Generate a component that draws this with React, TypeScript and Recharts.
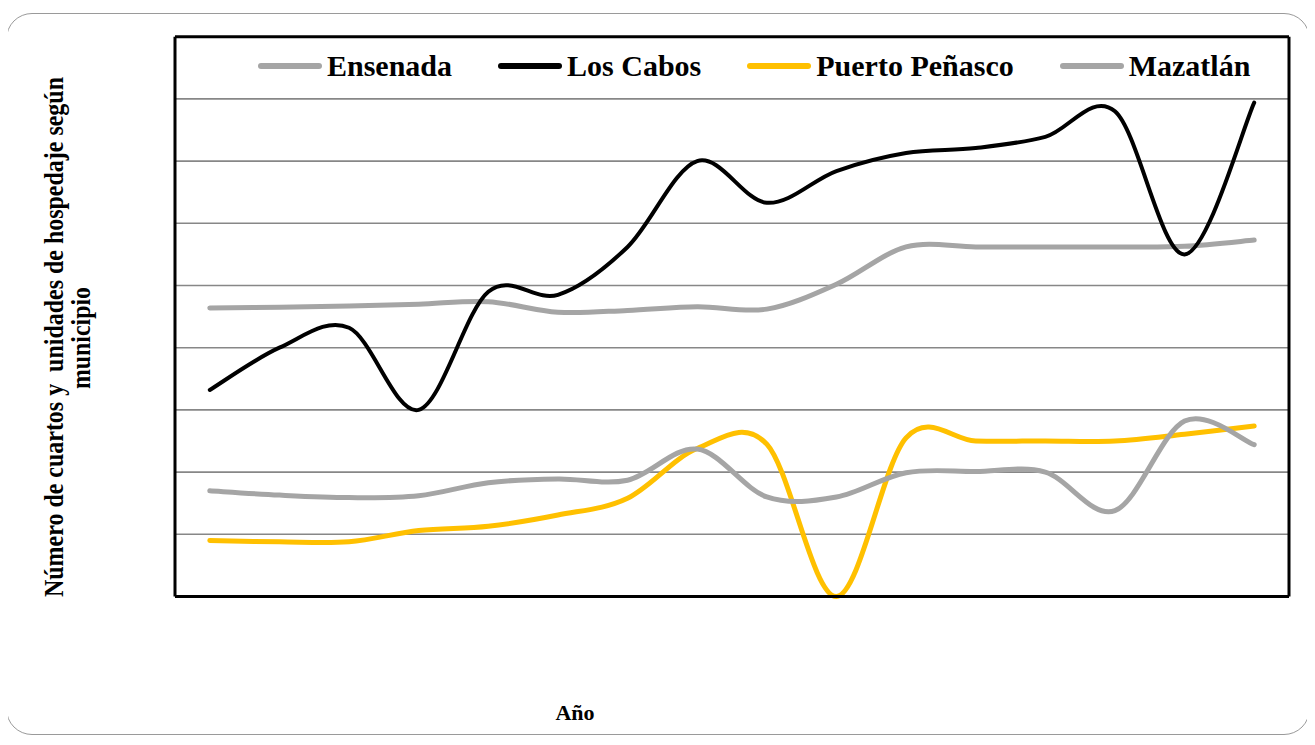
import { CartesianGrid, Legend, Line, LineChart, XAxis, YAxis } from "recharts";

const years = ["2000", "2001", "2002", "2003", "2004", "2005", "2006", "2007", "2008", "2009", "2010", "2011", "2012", "2013", "2014", "2015"];
const ensenada = [4.64, 4.65, 4.67, 4.7, 4.74, 4.57, 4.6, 4.66, 4.62, 5.02, 5.62, 5.62, 5.62, 5.62, 5.63, 5.73];
const losCabos = [3.32, 4.0, 4.32, 3.0, 4.9, 4.85, 5.62, 7.0, 6.33, 6.84, 7.13, 7.21, 7.39, 7.8, 5.5, 7.94];
const puertoPenasco = [0.9, 0.88, 0.88, 1.06, 1.13, 1.31, 1.58, 2.38, 2.45, 0, 2.55, 2.5, 2.5, 2.5, 2.61, 2.74];
const mazatlan = [1.7, 1.63, 1.59, 1.62, 1.83, 1.89, 1.87, 2.37, 1.6, 1.6, 1.99, 2.01, 2.0, 1.38, 2.82, 2.44];
const yTicks = [0, 1, 2, 3, 4, 5, 6, 7, 8, 9];

const data = years.map((year, i) => ({
  year,
  ensenada: ensenada[i],
  losCabos: losCabos[i],
  puertoPenasco: puertoPenasco[i],
  mazatlan: mazatlan[i],
}));

const series = [
  { key: "ensenada", name: "Ensenada", color: "#A5A5A5", width: 5 },
  { key: "losCabos", name: "Los Cabos", color: "#000000", width: 4 },
  { key: "puertoPenasco", name: "Puerto Peñasco", color: "#FFC000", width: 5 },
  { key: "mazatlan", name: "Mazatlán", color: "#A5A5A5", width: 5 },
];

const FONT = '"Liberation Serif", "Times New Roman", serif';

// excel-like smoothing (catmull-rom through every point)
const smooth = (ctx: any) => {
  let pts: number[][] = [];
  return {
    areaStart() {},
    areaEnd() {},
    lineStart() {
      pts = [];
    },
    point(x: number, y: number) {
      pts.push([+x, +y]);
    },
    lineEnd() {
      if (!pts.length) return;
      ctx.moveTo(pts[0][0], pts[0][1]);
      for (let i = 0; i < pts.length - 1; i++) {
        const p0 = pts[i - 1] || pts[i];
        const p1 = pts[i];
        const p2 = pts[i + 1];
        const p3 = pts[i + 2] || p2;
        ctx.bezierCurveTo(
          p1[0] + (p2[0] - p0[0]) / 6,
          p1[1] + (p2[1] - p0[1]) / 6,
          p2[0] - (p3[0] - p1[0]) / 6,
          p2[1] - (p3[1] - p1[1]) / 6,
          p2[0],
          p2[1]
        );
      }
    },
  };
};

function LegendRow() {
  return (
    <div style={{ display: "flex", alignItems: "center", gap: 46, fontFamily: FONT }}>
      {series.map((s) => (
        <div key={s.key} style={{ display: "flex", alignItems: "center", gap: 5 }}>
          <svg width={64} height={8}>
            <line x1={3} y1={4} x2={61} y2={4} stroke={s.color} strokeWidth={6} strokeLinecap="round" />
          </svg>
          <span style={{ fontSize: 30, fontWeight: "bold", color: "#000", whiteSpace: "nowrap" }}>{s.name}</span>
        </div>
      ))}
    </div>
  );
}

const frameLine = { stroke: "#000", strokeWidth: 3 };
const noTick = () => <g />;

export default function App() {
  return (
    <div style={{ position: "relative", left: -8, top: -8, width: 1315, height: 745, background: "#fff" }}>
      <div
        style={{
          position: "absolute",
          left: 6,
          top: 13,
          width: 1302,
          height: 720,
          border: "1.5px solid #9a9a9a",
          borderRadius: 26,
        }}
      />
      <div style={{ position: "absolute", left: 0, top: 0 }}>
        <LineChart
          width={1315}
          height={745}
          data={data}
          margin={{ top: 35.7, right: 25, bottom: 147.5, left: 174 }}
        >
          <CartesianGrid
            horizontal
            vertical={false}
            horizontalValues={yTicks}
            stroke="#878787"
            strokeWidth={1.6}
          />
          <XAxis
            dataKey="year"
            padding={{ left: 34.8, right: 34.8 }}
            height={1}
            tick={noTick}
            tickLine={false}
            axisLine={frameLine}
          />
          <XAxis
            xAxisId="top"
            orientation="top"
            dataKey="year"
            height={1}
            tick={false}
            tickLine={false}
            axisLine={frameLine}
          />
          <YAxis
            type="number"
            domain={[0, 9]}
            ticks={yTicks}
            width={1}
            tick={noTick}
            tickLine={false}
            axisLine={frameLine}
          />
          <YAxis
            yAxisId="right"
            orientation="right"
            type="number"
            domain={[0, 9]}
            width={1}
            tick={false}
            tickLine={false}
            axisLine={frameLine}
          />
          <Legend
            verticalAlign="middle"
            align="center"
            wrapperStyle={{ left: 258, top: 49, width: "auto", height: "auto" }}
            content={() => <LegendRow />}
          />
          {series.map((s) => (
            <Line
              key={s.key}
              dataKey={s.key}
              name={s.name}
              type={smooth as any}
              stroke={s.color}
              strokeWidth={s.width}
              strokeLinecap="round"
              dot={false}
              activeDot={false}
              isAnimationActive={false}
            />
          ))}
        </LineChart>
      </div>
      <svg style={{ position: "absolute", left: 0, top: 0 }} width={1315} height={745}>
        <text
          transform="translate(63 337) rotate(-90)"
          textAnchor="middle"
          fontFamily={FONT}
          fontWeight="bold"
          fontSize={27}
          textLength={520}
          lengthAdjust="spacingAndGlyphs"
          style={{ whiteSpace: "pre" }}
        >
          Número de cuartos y  unidades de hospedaje según
        </text>
        <text
          transform="translate(90 338) rotate(-90)"
          textAnchor="middle"
          fontFamily={FONT}
          fontWeight="bold"
          fontSize={27}
          textLength={102}
          lengthAdjust="spacingAndGlyphs"
        >
          municipio
        </text>
        <text x={575} y={720} textAnchor="middle" fontFamily={FONT} fontWeight="bold" fontSize={22}>
          Año
        </text>
      </svg>
    </div>
  );
}
